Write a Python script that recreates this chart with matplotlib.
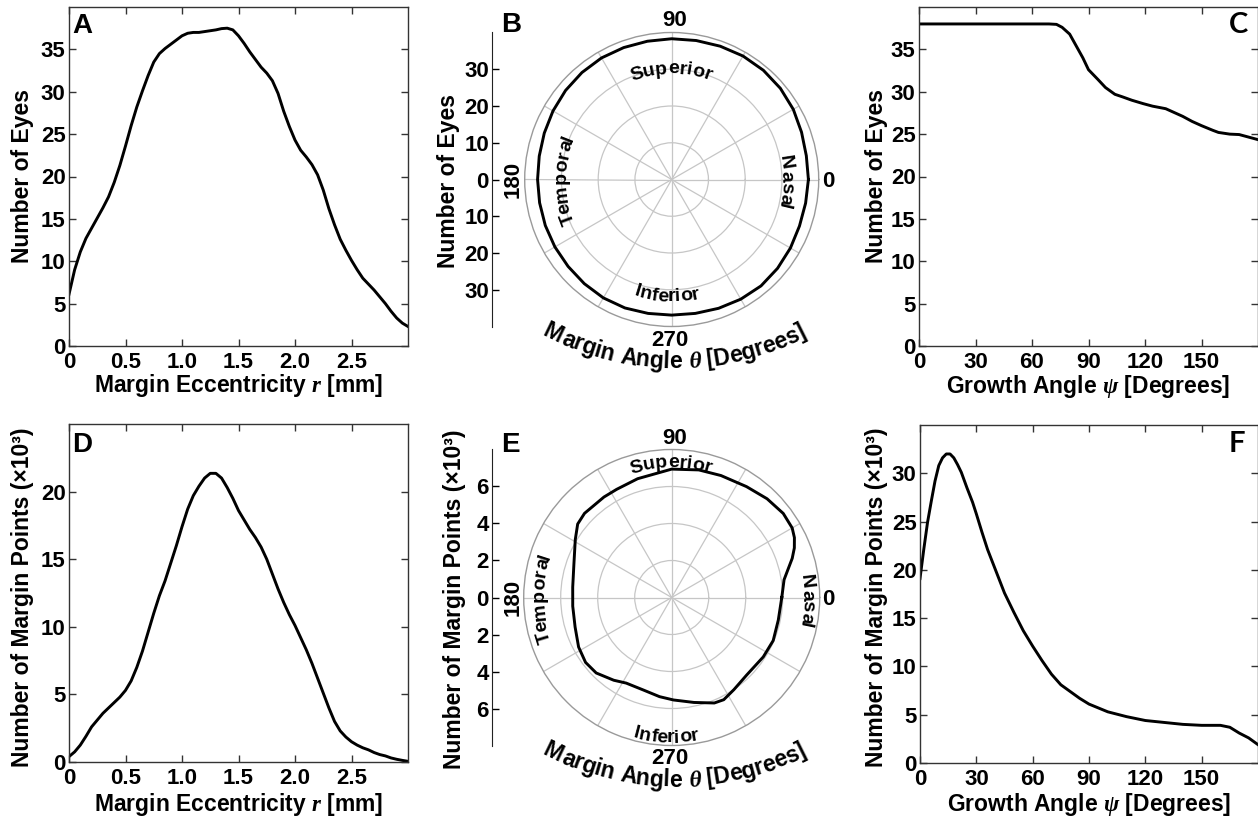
import numpy as np
import matplotlib
matplotlib.use("Agg")
import matplotlib.pyplot as plt
from matplotlib.font_manager import FontProperties, findfont, get_font

W, H = 1258, 818

plt.rcParams["font.family"] = "Liberation Sans"
plt.rcParams["font.weight"] = "bold"
plt.rcParams["mathtext.fontset"] = "custom"
plt.rcParams["mathtext.it"] = "Liberation Serif:italic:bold"
plt.rcParams["mathtext.rm"] = "Liberation Sans:bold"

# ---- values ----
# A: eyes vs margin eccentricity r [mm]
ecc_a = [0.0, 0.05, 0.1, 0.15, 0.2, 0.25, 0.3, 0.35, 0.4, 0.45,
         0.5, 0.55, 0.6, 0.65, 0.7, 0.75, 0.8, 0.85, 0.9, 0.95,
         1.0, 1.05, 1.1, 1.15, 1.2, 1.25, 1.3, 1.35, 1.4, 1.45,
         1.5, 1.55, 1.6, 1.65, 1.7, 1.75, 1.8, 1.85, 1.9, 1.95,
         2.0, 2.05, 2.1, 2.15, 2.2, 2.25, 2.3, 2.35, 2.4, 2.45,
         2.5, 2.55, 2.6, 2.65, 2.7, 2.75, 2.8, 2.85, 2.9, 2.95, 3.0]
eyes_a = [6.1, 9.0, 11.1, 12.7, 13.9, 15.1, 16.3, 17.6, 19.3, 21.3,
          23.6, 26.0, 28.2, 30.1, 31.9, 33.5, 34.5, 35.1, 35.6, 36.1,
          36.6, 36.9, 37.0, 37.0, 37.1, 37.2, 37.3, 37.45, 37.5, 37.3,
          36.6, 35.7, 34.7, 33.8, 32.9, 32.2, 31.3, 29.8, 27.7, 25.9,
          24.3, 23.1, 22.3, 21.4, 20.2, 18.4, 16.2, 14.3, 12.6, 11.3,
          10.1, 9.0, 8.0, 7.3, 6.6, 5.8, 5.0, 4.1, 3.3, 2.7, 2.3]

# D: margin points (x10^3) vs eccentricity
ecc_d = ecc_a
pts_d = [0.4, 0.75, 1.25, 1.9, 2.6, 3.1, 3.6, 4.0, 4.4, 4.8,
         5.3, 6.0, 7.0, 8.2, 9.6, 11.0, 12.3, 13.4, 14.7, 16.0,
         17.4, 18.7, 19.7, 20.4, 21.0, 21.35, 21.35, 21.0, 20.3, 19.5,
         18.6, 17.9, 17.2, 16.6, 15.9, 15.0, 13.9, 12.8, 11.8, 10.9,
         10.1, 9.2, 8.3, 7.3, 6.2, 5.1, 4.0, 3.0, 2.3, 1.85,
         1.5, 1.25, 1.05, 0.9, 0.7, 0.55, 0.45, 0.3, 0.2, 0.12, 0.05]

# C: eyes vs growth angle psi [deg]
psi_c = [0, 69, 73, 76, 80, 83, 87, 90, 95, 99, 104, 108, 113, 119, 124, 131, 135,
         140, 145, 150, 156, 159, 165, 170, 175, 180]
eyes_c = [38.0, 38.0, 37.95, 37.6, 36.8, 35.6, 34.0, 32.6, 31.45, 30.5, 29.7, 29.4,
          29.0, 28.6, 28.3, 28.0, 27.6, 27.1, 26.5, 26.0, 25.45, 25.2, 25.0, 24.95,
          24.65, 24.35]

# F: margin points (x10^3) vs growth angle
psi_f = [0, 2, 4, 6, 8, 10, 12, 14, 16, 18, 20, 22, 25, 28, 30, 33, 36, 40, 45, 50,
         55, 60, 65, 70, 75, 80, 85, 90, 100, 110, 120, 130, 140, 150, 155, 160, 165,
         170, 175, 180]
pts_f = [19.1, 22.1, 24.9, 27.1, 29.2, 30.8, 31.6, 32.0, 32.0, 31.6, 30.9, 30.1, 28.5,
         27.0, 25.8, 23.9, 22.1, 20.1, 17.6, 15.6, 13.7, 12.1, 10.6, 9.2, 8.1, 7.4,
         6.7, 6.1, 5.3, 4.8, 4.4, 4.2, 4.0, 3.9, 3.9, 3.9, 3.7, 3.1, 2.6, 1.9]

# B: eyes vs margin angle theta [deg]
theta_b = [0, 10, 20, 30, 40, 50, 60, 70, 80, 90, 100, 110, 120, 130, 140, 150, 160,
           170, 180, 190, 200, 210, 220, 230, 240, 250, 260, 270, 280, 290, 300, 310,
           320, 330, 340, 350]
eyes_b = [37.2, 37.2, 37.6, 38.2, 38.6, 38.8, 38.8, 38.6, 38.4, 38.3, 38.2, 38.2, 38.2,
          38.0, 37.7, 37.3, 36.9, 36.6, 36.5, 36.5, 36.6, 36.7, 36.8, 37.0, 37.2, 37.2,
          37.0, 36.9, 37.0, 37.3, 37.6, 37.8, 37.6, 37.3, 37.0, 37.0]

# E: margin points (x10^3) vs margin angle
theta_e = [0, 9, 14, 18, 22, 26, 30, 37, 46, 56, 68, 78, 90, 106, 117, 124, 136, 142,
           149, 161, 174, 185, 197, 208, 217, 225, 235, 242, 253, 263, 271, 282, 292,
           297, 304, 314, 327, 337, 348]
pts_e = [5.95, 6.15, 6.5, 6.85, 7.15, 7.38, 7.52, 7.55, 7.42, 7.23, 7.11, 7.05, 6.94,
         6.68, 6.56, 6.55, 6.55, 6.45, 6.08, 5.59, 5.38, 5.37, 5.46, 5.70, 5.83, 5.77,
         5.46, 5.24, 5.23, 5.40, 5.54, 5.80, 6.15, 6.20, 6.01, 5.83, 5.90, 5.96, 5.89]

ecc_ticks = [0, 0.5, 1.0, 1.5, 2.0, 2.5]
ecc_ticklabels = ["0", "0.5", "1.0", "1.5", "2.0", "2.5"]
psi_ticks = [0, 30, 60, 90, 120, 150]

TICK_FS = 16
LAB_FS = 16.5


def px_rect(l, t, r, b):
    return [l / W, 1 - b / H, (r - l) / W, (b - t) / H]


def ftext(x, y, s, **kw):
    return fig.text(x / W, 1 - y / H, s, **kw)


def style_box(ax, xlim, ylim, xticks, xlabels, yticks):
    ax.set_xlim(*xlim)
    ax.set_ylim(*ylim)
    ax.set_xticks(xticks)
    ax.set_xticklabels(xlabels)
    ax.set_yticks(yticks)
    ax.tick_params(direction="in", top=True, right=True, length=5, width=1,
                   labelsize=TICK_FS, color="#333")
    ax.tick_params(axis="x", pad=4)
    ax.tick_params(axis="y", pad=2.5)
    for sp in ax.spines.values():
        sp.set_color("#333")
        sp.set_linewidth(1)


def style_polar(ax, rmax, rgrid):
    ax.set_ylim(0, rmax)
    ax.set_yticks(rgrid)
    ax.set_yticklabels([])
    ax.set_xticks(np.deg2rad(np.arange(0, 360, 30)))
    ax.set_xticklabels([])
    ax.grid(True, color="#c6c6c6", lw=0.9)
    ax.spines["polar"].set_color("#9a9a9a")
    ax.spines["polar"].set_linewidth(1)


def polar_scale(rect, rmax, ticks):
    ax = fig.add_axes(rect)
    ax.set_ylim(-rmax, rmax)
    ax.set_yticks(ticks)
    ax.set_yticklabels([str(abs(t)) for t in ticks])
    ax.set_xticks([])
    for k in ("top", "right", "bottom"):
        ax.spines[k].set_visible(False)
    ax.spines["left"].set_color("#222")
    ax.patch.set_visible(False)
    ax.tick_params(axis="y", direction="in", length=5, width=1, labelsize=TICK_FS, pad=2)
    return ax


def glyph_metrics(ch, fp):
    # pen advance and ink width, in pixels at 100 dpi
    font = get_font(findfont(fp))
    font.set_size(fp.get_size_in_points(), 100)
    g = font.load_char(ord(ch))
    return g.linearHoriAdvance / 65536, g.width / 64


def arc_text(s, cx, cy, rmid, a0, fp, outward, fp_special=None, special=""):
    fps = [fp_special if ch in special else fp for ch in s]
    met = [glyph_metrics(c, f) for c, f in zip(s, fps)]
    adv = np.array([m[0] for m in met])
    ink = np.array([m[1] for m in met])
    # centred anchors put the pen origin at anchor - ink/2
    offs = np.cumsum(adv) - adv + ink / 2 - adv.sum() / 2
    size = fp.get_size_in_points()
    R = rmid - size / 2 if outward else rmid + size / 2
    cyu = H - cy
    for ch, f, d in zip(s, fps, offs):
        if ch == " ":
            continue
        if outward:
            a = np.deg2rad(a0) - d / R
            rot = np.rad2deg(a) - 90
        else:
            a = np.deg2rad(a0) + d / R
            rot = np.rad2deg(a) + 90
        x = cx + R * np.cos(a)
        y = cyu + R * np.sin(a)
        fig.text(x / W, y / H, ch, fontproperties=f, rotation=rot,
                 rotation_mode="anchor", ha="center", va="baseline")


fig = plt.figure(figsize=(W / 100, H / 100), dpi=100)

lab_fp = dict(fontsize=LAB_FS, fontweight="bold")
letter_fp = dict(fontsize=20, fontweight="bold")
calib_fp = dict(fontsize=21, fontweight="bold", family="Lato")
line_kw = dict(color="black", lw=2.1, solid_joinstyle="round")

# ---- A ----
axA = fig.add_axes(px_rect(69, 7, 408, 346))
axA.plot(ecc_a, eyes_a, **line_kw)
style_box(axA, (0, 3), (0, 40), ecc_ticks, ecc_ticklabels, range(0, 40, 5))
ftext(238.5, 385.5, r"Margin Eccentricity $r$ [mm]", ha="center", va="center", **lab_fp)
ftext(22.5, 176, "Number of Eyes", rotation=90, ha="center", va="center", **lab_fp)
ftext(72, 33, "A", ha="left", va="baseline", **letter_fp)

# ---- D ----
axD = fig.add_axes(px_rect(69, 424, 408, 762))
axD.plot(ecc_d, pts_d, **line_kw)
style_box(axD, (0, 3), (0, 25), ecc_ticks, ecc_ticklabels, range(0, 25, 5))
ftext(238.5, 804, r"Margin Eccentricity $r$ [mm]", ha="center", va="center", **lab_fp)
ftext(23, 597, "Number of Margin Points (×10³)", rotation=90, ha="center",
      va="center", **lab_fp)
ftext(72, 452, "D", ha="left", va="baseline", **letter_fp)

# ---- C ----
axC = fig.add_axes(px_rect(919, 7, 1258, 346))
axC.plot(psi_c, eyes_c, **line_kw)
style_box(axC, (0, 180), (0, 40), psi_ticks, [str(t) for t in psi_ticks], range(0, 40, 5))
ftext(1088.5, 387, r"Growth Angle $\psi$ [Degrees]", ha="center", va="center", **lab_fp)
ftext(876.5, 176, "Number of Eyes", rotation=90, ha="center", va="center", **lab_fp)
ftext(1229, 33, "C", ha="left", va="baseline", **calib_fp)

# ---- F ----
axF = fig.add_axes(px_rect(920, 425, 1258, 763))
axF.plot(psi_f, pts_f, **line_kw)
style_box(axF, (0, 180), (0, 35), psi_ticks, [str(t) for t in psi_ticks], range(0, 35, 5))
ftext(1089, 804, r"Growth Angle $\psi$ [Degrees]", ha="center", va="center", **lab_fp)
ftext(876.5, 597, "Number of Margin Points (×10³)", rotation=90, ha="center",
      va="center", **lab_fp)
ftext(1229, 452, "F", ha="left", va="baseline", **calib_fp)

# ---- polar panels B and E ----
inner_fp = FontProperties(family="Liberation Sans", weight="bold", size=14)
arc_fp = FontProperties(family="Liberation Sans", weight="bold", size=16.5)
theta_fp = FontProperties(family="Liberation Serif", style="italic", weight="bold", size=17)

polar_specs = [
    # center, radius px, rmax, grid, angles, values, scale ticks, ylabel, letter,
    # inner-label radii, centre of the curved x label
    ((671.7, 179.5), 147, 40, [10, 20, 30], theta_b, eyes_b,
     [-30, -20, -10, 0, 10, 20, 30], "Number of Eyes", "B", (113, 115, 113, 117), 80.3),
    ((671.7, 597.5), 148, 8, [2, 4, 6], theta_e, pts_e,
     [-6, -4, -2, 0, 2, 4, 6], "Number of Margin Points (×10³)", "E",
     (137, 138, 135, 138), 499.0),
]

for (cx, cy), rad, rmax, grid, angs, vals, sticks, ylab, letter, inner, arc_cy in polar_specs:
    ax = fig.add_axes(px_rect(cx - rad, cy - rad, cx + rad, cy + rad), projection="polar")
    th = np.deg2rad(angs + [angs[0]])
    ax.plot(th, vals + [vals[0]], **line_kw)
    style_polar(ax, rmax, grid)

    polar_scale(px_rect(491.7, cy - rad - 0.5, 492.7, cy + rad + 0.5), rmax, sticks)
    ftext(449 if letter == "B" else 455, cy + 2, ylab, rotation=90, ha="center",
          va="center", **lab_fp)
    ftext(501, cy - 147.5 if letter == "B" else cy - 145.5, letter, ha="left",
          va="baseline", **letter_fp)

    # angle labels
    ftext(675, cy - 159, "90", ha="center", va="center", fontsize=TICK_FS)
    ftext(828.5, cy + 2, "0", ha="center", va="center", fontsize=TICK_FS)
    ftext(513.5, cy, "180", rotation=90, ha="center", va="center", fontsize=TICK_FS)
    ftext(670, cy + 160.5, "270", ha="center", va="center", fontsize=TICK_FS)

    sup, inf, tmp, nas = inner
    arc_text("Superior", cx, cy, sup, 90, inner_fp, outward=True)
    arc_text("Inferior", cx, cy, inf, 268, inner_fp, outward=False)
    arc_text("Temporal", cx, cy, tmp, 180, inner_fp, outward=True)
    arc_text("Nasal", cx, cy, nas, -2, inner_fp, outward=True)

    arc_text("Margin Angle θ [Degrees]", 675.7, arc_cy, 279.5, 270, arc_fp,
             outward=False, fp_special=theta_fp, special="θ")

fig.savefig("out.png", dpi=100)
